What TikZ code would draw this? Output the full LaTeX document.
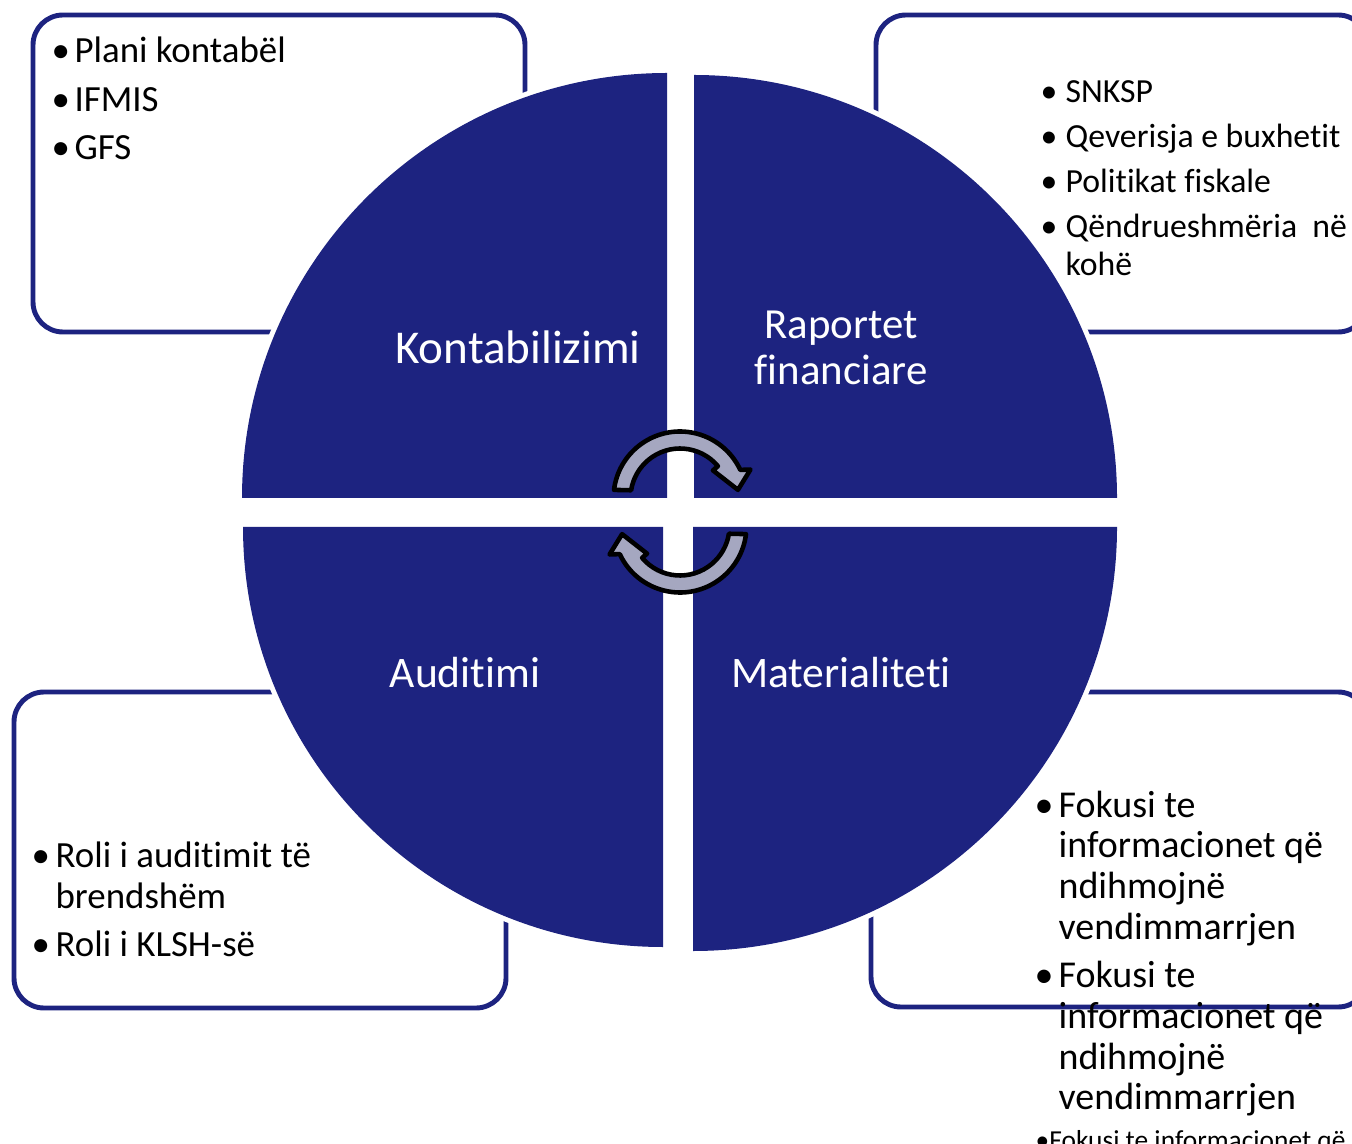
\documentclass[tikz,border=0pt]{standalone}
\usepackage{fontspec}
\setmainfont{Carlito}[Ligatures={NoCommon}]

\definecolor{navy}{RGB}{29,35,128}
\definecolor{arrowgray}{RGB}{165,167,192}

\tikzset{
  quad/.style={fill=navy, preaction={draw=white, line width=0.1cm}},
  frame/.style={draw=navy, line width=1.4pt, rounded corners=0.3cm},
  title/.style={text=white, inner sep=0pt, align=center},
  list/.style={anchor=base west, inner sep=0pt, text=black},
  turn/.style={fill=arrowgray, draw=black, line width=1.3pt, line join=round},
}
\newcommand{\bul}[1]{\makebox[#1][l]{\textbullet}}

\begin{document}
\begin{tikzpicture}

   \useasboundingbox (0,0) rectangle (13.52,11.43);

   % frames behind the circle
   \foreach \xa/\ya/\xb/\yb in {0.33/8.11/5.25/11.28, 8.76/8.11/13.68/11.28,
                                0.14/1.35/5.06/4.51, 8.71/1.36/13.68/4.51}
     \draw[frame] (\xa,\ya) rectangle (\xb,\yb);

   % four quarters of the circle
   \foreach \x/\y/\a/\r in {6.67/6.45/90/4.25, 6.94/6.45/0/4.23,
                            6.63/6.16/180/4.20, 6.93/6.16/270/4.24}
     \fill[quad] (\x,\y) -- ++(\a:\r) arc[start angle=\a, delta angle=90, radius=\r] -- cycle;

   \node[title, font=\fontsize{13.4}{16}\selectfont] (kont) at (5.18,7.96) {Kontabilizimi};
   \node[title, font=\fontsize{12.2}{13.1}\selectfont] (rap) at (8.41,7.95) {Raportet\\financiare};
   \node[title, font=\fontsize{12.4}{15}\selectfont] (aud) at (4.65,4.70) {Auditimi};
   \node[title, font=\fontsize{12.4}{15}\selectfont] (mat) at (8.41,4.70) {Materialiteti};

   % turning arrows in the middle
   \foreach \r in {0,180} {
     \begin{scope}[shift={(6.80,6.31)}, rotate=\r, shift={(0,0.14)}]
       \draw[turn] (173:0.665) arc[start angle=173, end angle=25, radius=0.665]
         -- (22:0.76) -- (8:0.585) -- (40:0.43) -- (40:0.495)
         arc[start angle=40, end angle=171, radius=0.495] -- cycle;
     \end{scope}
   }

   % bullet lists
   \node[list, font=\fontsize{10.5}{13.8}\selectfont] (kl) at (0.51,10.80) {%
     \begin{tabular}[t]{@{}l@{}l@{}}
       \bul{6.5pt} & Plani kontabël\\
       \bul{6.5pt} & IFMIS\\
       \bul{6.5pt} & GFS
     \end{tabular}};

   \node[list, font=\fontsize{9.6}{10.8}\selectfont] (rl) at (10.40,10.40) {%
     \begin{tabular}[t]{@{}l@{}l@{}}
       \bul{7.1pt} & SNKSP\\[2pt]
       \bul{7.1pt} & Qeverisja e buxhetit\\[2pt]
       \bul{7.1pt} & Politikat fiskale\\[2pt]
       \bul{7.1pt} & Qëndrueshmëria\ \ në\\
                   & kohë
     \end{tabular}};

   \node[list, font=\fontsize{10.5}{11.7}\selectfont] (al) at (0.31,2.76) {%
     \begin{tabular}[t]{@{}l@{}l@{}}
       \bul{6.8pt} & Roli i auditimit të\\
                   & brendshëm\\[2.2pt]
       \bul{6.8pt} & Roli i KLSH-së
     \end{tabular}};

   \node[list, font=\fontsize{10.8}{11.6}\selectfont] (ml) at (10.34,3.26) {%
     \begin{tabular}[t]{@{}l@{}l@{}}
       \bul{6.8pt} & Fokusi te\\
                   & informacionet që\\
                   & ndihmojnë\\
                   & vendimmarrjen\\[2.1pt]
       \bul{6.8pt} & Fokusi te\\
                   & informacionet që\\
                   & ndihmojnë\\
                   & vendimmarrjen
     \end{tabular}};
   \node[list, font=\fontsize{7.8}{9}\selectfont] (mx) at (10.35,-0.06)
     {\textbullet Fokusi te informacionet që};

\end{tikzpicture}
\end{document}
